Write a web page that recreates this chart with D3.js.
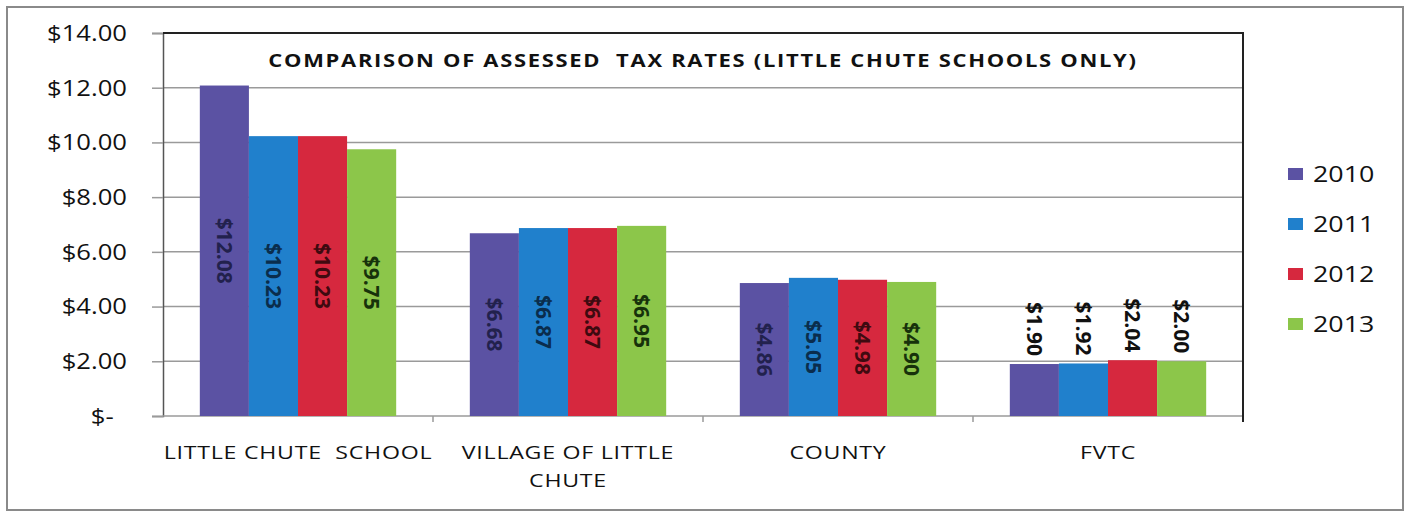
<!DOCTYPE html>
<html>
<head>
<meta charset="utf-8">
<script src="https://cdn.jsdelivr.net/npm/d3@7"></script>
<style>
  body { margin: 0; background: #fff; }
  text { font-family: "Open Sans", "DejaVu Sans", sans-serif; fill: #111; }
</style>
</head>
<body>
<div id="chart"></div>
<script>
const categories = ["LITTLE CHUTE  SCHOOL", "VILLAGE OF LITTLE CHUTE", "COUNTY", "FVTC"];
const categoryLines = [["LITTLE CHUTE\u00a0\u00a0SCHOOL"], ["VILLAGE OF LITTLE", "CHUTE"], ["COUNTY"], ["FVTC"]];
const years = ["2010", "2011", "2012", "2013"];
const rates2010 = [12.08, 6.68, 4.86, 1.90];
const rates2011 = [10.23, 6.87, 5.05, 1.92];
const rates2012 = [10.23, 6.87, 4.98, 2.04];
const rates2013 = [9.75, 6.95, 4.90, 2.00];
const yTicks = [0, 2, 4, 6, 8, 10, 12, 14];
const title = "COMPARISON OF ASSESSED\u00a0\u00a0TAX RATES (LITTLE CHUTE SCHOOLS ONLY)";

const series = [rates2010, rates2011, rates2012, rates2013];
const barColors = ["#5b52a3", "#2080cc", "#d6283e", "#8cc64a"];
const labelColors = ["#22214d", "#0a2d4d", "#3f0a10", "#17320b"];

const W = 1406, H = 514;
const stretch = 1.22; // the source text is drawn wide

const rows = [];
categories.forEach((c, i) => {
  years.forEach((yr, j) => rows.push({ cat: c, year: yr, j: j, value: series[j][i] }));
});

const svg = d3.select("#chart").append("svg")
  .attr("width", W).attr("height", H);

svg.append("rect")
  .attr("x", 7).attr("y", 7).attr("width", 1396).attr("height", 503)
  .attr("fill", "#fff").attr("stroke", "#8a8a8a").attr("stroke-width", 2);

const plotLeft = 163, plotRight = 1243, plotTop = 33, plotBottom = 416;

const x0 = d3.scaleBand().domain(categories).range([plotLeft, plotRight]);
const x1 = d3.scaleBand().domain(years).range([0, x0.bandwidth()]).paddingOuter(0.75);
const y = d3.scaleLinear().domain([0, 14]).range([plotBottom, plotTop]);

// gridlines
svg.append("g").selectAll("line")
  .data(yTicks.filter(t => t > 0))
  .enter().append("line")
  .attr("x1", plotLeft).attr("x2", plotRight)
  .attr("y1", d => y(d)).attr("y2", d => y(d))
  .attr("stroke", "#9a9a9a").attr("stroke-width", 1.5);

// y axis
const yAxis = svg.append("g")
  .attr("transform", "translate(" + plotLeft + ",0)")
  .call(d3.axisLeft(y).tickValues(yTicks).tickSize(11)
    .tickFormat(d => d === 0 ? "$-\u00a0\u00a0" : "$" + d3.format(".2f")(d)));
yAxis.select(".domain").attr("stroke", "#555").attr("stroke-width", 1.5);
yAxis.selectAll(".tick line").attr("stroke", "#9a9a9a").attr("stroke-width", 1.5);
yAxis.selectAll("text")
  .attr("x", 0).attr("dy", "0.35em")
  .attr("transform", "translate(-36,0) scale(" + stretch + ",1)")
  .style("font-size", "21px").style("fill", "#111");

// baseline and category ticks
svg.append("line")
  .attr("x1", plotLeft).attr("x2", plotRight).attr("y1", plotBottom).attr("y2", plotBottom)
  .attr("stroke", "#9a9a9a").attr("stroke-width", 1.5);
const bounds = categories.map(c => x0(c)).concat([plotRight]);
svg.append("g").selectAll("line")
  .data(bounds.slice(1, -1))
  .enter().append("line")
  .attr("x1", d => d).attr("x2", d => d)
  .attr("y1", plotBottom).attr("y2", plotBottom + 6)
  .attr("stroke", "#9a9a9a").attr("stroke-width", 1.5);

// bars
const groups = svg.append("g").selectAll("g")
  .data(categories)
  .enter().append("g")
  .attr("transform", d => "translate(" + x0(d) + ",0)");

groups.selectAll("rect")
  .data(c => rows.filter(r => r.cat === c))
  .enter().append("rect")
  .attr("x", d => x1(d.year))
  .attr("y", d => y(d.value))
  .attr("width", x1.bandwidth())
  .attr("height", d => plotBottom - y(d.value))
  .attr("fill", d => barColors[d.j]);

// value labels, rotated
groups.selectAll("text.val")
  .data(c => rows.filter(r => r.cat === c))
  .enter().append("text")
  .attr("class", "val")
  .attr("transform", d => {
    const cx = x1(d.year) + x1.bandwidth() / 2;
    const cy = d.value < 3 ? y(d.value) - 8 : (y(d.value) + plotBottom) / 2;
    return "translate(" + cx + "," + cy + ") rotate(90)";
  })
  .attr("text-anchor", d => d.value < 3 ? "end" : "middle")
  .attr("dy", "0.35em")
  .style("font-size", "21px")
  .style("font-weight", "bold")
  .style("fill", d => d.value < 3 ? "#111" : labelColors[d.j])
  .text(d => "$" + d3.format(".2f")(d.value));

// plot frame (top, right)
svg.append("path")
  .attr("d", "M" + plotLeft + "," + plotTop + "H" + plotRight + "V" + (plotBottom + 6))
  .attr("fill", "none").attr("stroke", "#222").attr("stroke-width", 2);

// category labels
const xl = svg.append("g").selectAll("text")
  .data(categories)
  .enter().append("text")
  .attr("transform", d => "translate(" + (x0(d) + x0.bandwidth() / 2) + ",459) scale(" + stretch + ",1)")
  .attr("text-anchor", "middle")
  .style("font-size", "19px")
  .style("letter-spacing", "0.6px");
xl.selectAll("tspan")
  .data((d, i) => categoryLines[i])
  .enter().append("tspan")
  .attr("x", 0)
  .attr("dy", (d, i) => i === 0 ? 0 : 28)
  .text(d => d);

// title
svg.append("text")
  .attr("transform", "translate(" + ((plotLeft + plotRight) / 2) + ",67) scale(" + stretch + ",1)")
  .attr("text-anchor", "middle")
  .style("font-size", "18px").style("font-weight", "bold")
  .style("letter-spacing", "1.4px")
  .text(title);

// legend
const legend = svg.append("g").selectAll("g")
  .data(years)
  .enter().append("g")
  .attr("transform", (d, i) => "translate(1288," + (174 + i * 50) + ")");
legend.append("rect")
  .attr("x", 0).attr("y", -6).attr("width", 15).attr("height", 12)
  .attr("fill", (d, i) => barColors[i]);
legend.append("text")
  .attr("transform", "translate(25,8) scale(" + stretch + ",1)")
  .style("font-size", "22px")
  .text(d => d);
</script>
</body>
</html>
